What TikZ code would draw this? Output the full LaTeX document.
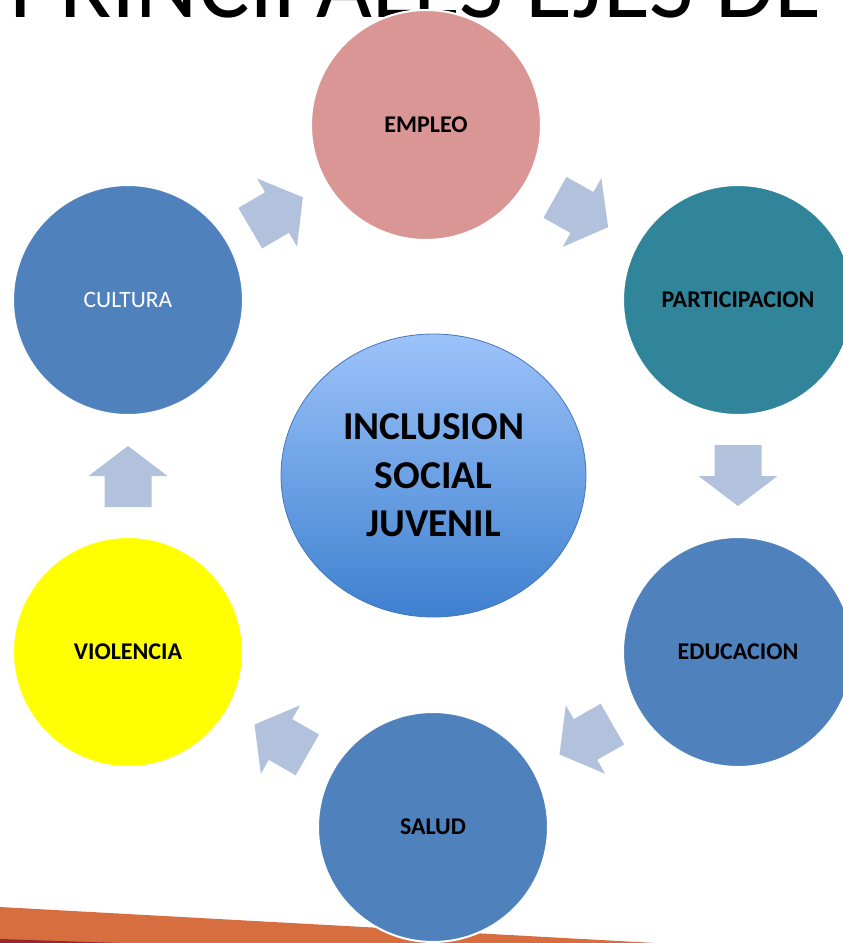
\documentclass[tikz,border=0pt]{standalone}
\usepackage{fontspec}
\setmainfont{Carlito}
\usetikzlibrary{positioning,shapes.geometric,calc}

\definecolor{rosa}{RGB}{217,150,148}
\definecolor{petrol}{RGB}{49,133,155}
\definecolor{azul}{RGB}{79,129,189}
\definecolor{flecha}{RGB}{178,194,220}
\definecolor{naranja}{RGB}{214,110,64}
\definecolor{granate}{RGB}{150,40,50}
\definecolor{celeste}{RGB}{156,195,250}
\definecolor{marino}{RGB}{62,128,207}
\definecolor{borde}{RGB}{70,118,185}
\definecolor{amarillo}{RGB}{255,255,0}

\tikzset{
  eje/.style={circle,minimum size=230,inner sep=0,draw=white,line width=2,
    font=\fontsize{24}{28}\selectfont\bfseries},
  flechita/.pic={\fill[flecha] (-31,-23.5) -- (0,-23.5) -- (0,-39.5) -- (30,0)
    -- (0,39.5) -- (0,23.5) -- (-31,23.5) -- cycle;}
}

\begin{document}
\begin{tikzpicture}[x=1pt,y=-1pt]
\useasboundingbox (0,0) rectangle (843,943);
\clip (0,0) rectangle (843,943);
\node[anchor=base west,inner sep=0,font=\fontsize{96.5}{100}\selectfont] (titulo) at (9,17) {PRINCIPALES EJES DE};
\fill[naranja] (0,907) -- (655,943) -- (0,943) -- cycle;
\fill[granate] (0,939) -- (120,943) -- (0,943) -- cycle;

\node[ellipse,minimum width=305,minimum height=283,top color=celeste,bottom color=marino,
  draw=borde,line width=0.8,align=center,font=\fontsize{39.5}{48.5}\selectfont\bfseries]
  (centro) at (433.5,475.5) {INCLUSION\\SOCIAL\\JUVENIL};

\node[eje,fill=rosa] (empleo) at (426,125) {EMPLEO};
\node[eje,fill=petrol] (participacion) at (738,300) {PARTICIPACION};
\node[eje,fill=azul] (educacion) at (738,652) {EDUCACION};
\node[eje,fill=azul] (salud) at (433,827) {SALUD};
\node[eje,fill=amarillo] (violencia) at (128,652) {VIOLENCIA};
\node[eje,fill=azul,text=white,font=\fontsize{23.5}{28}\selectfont] (cultura) at (128,300) {CULTURA};

\foreach \a/\b in {cultura/empleo,empleo/participacion,participacion/educacion,
                   educacion/salud,salud/violencia,violencia/cultura}
  \path (\a.center) -- (\b.center) pic[midway,sloped,allow upside down] {flechita};
\end{tikzpicture}
\end{document}
